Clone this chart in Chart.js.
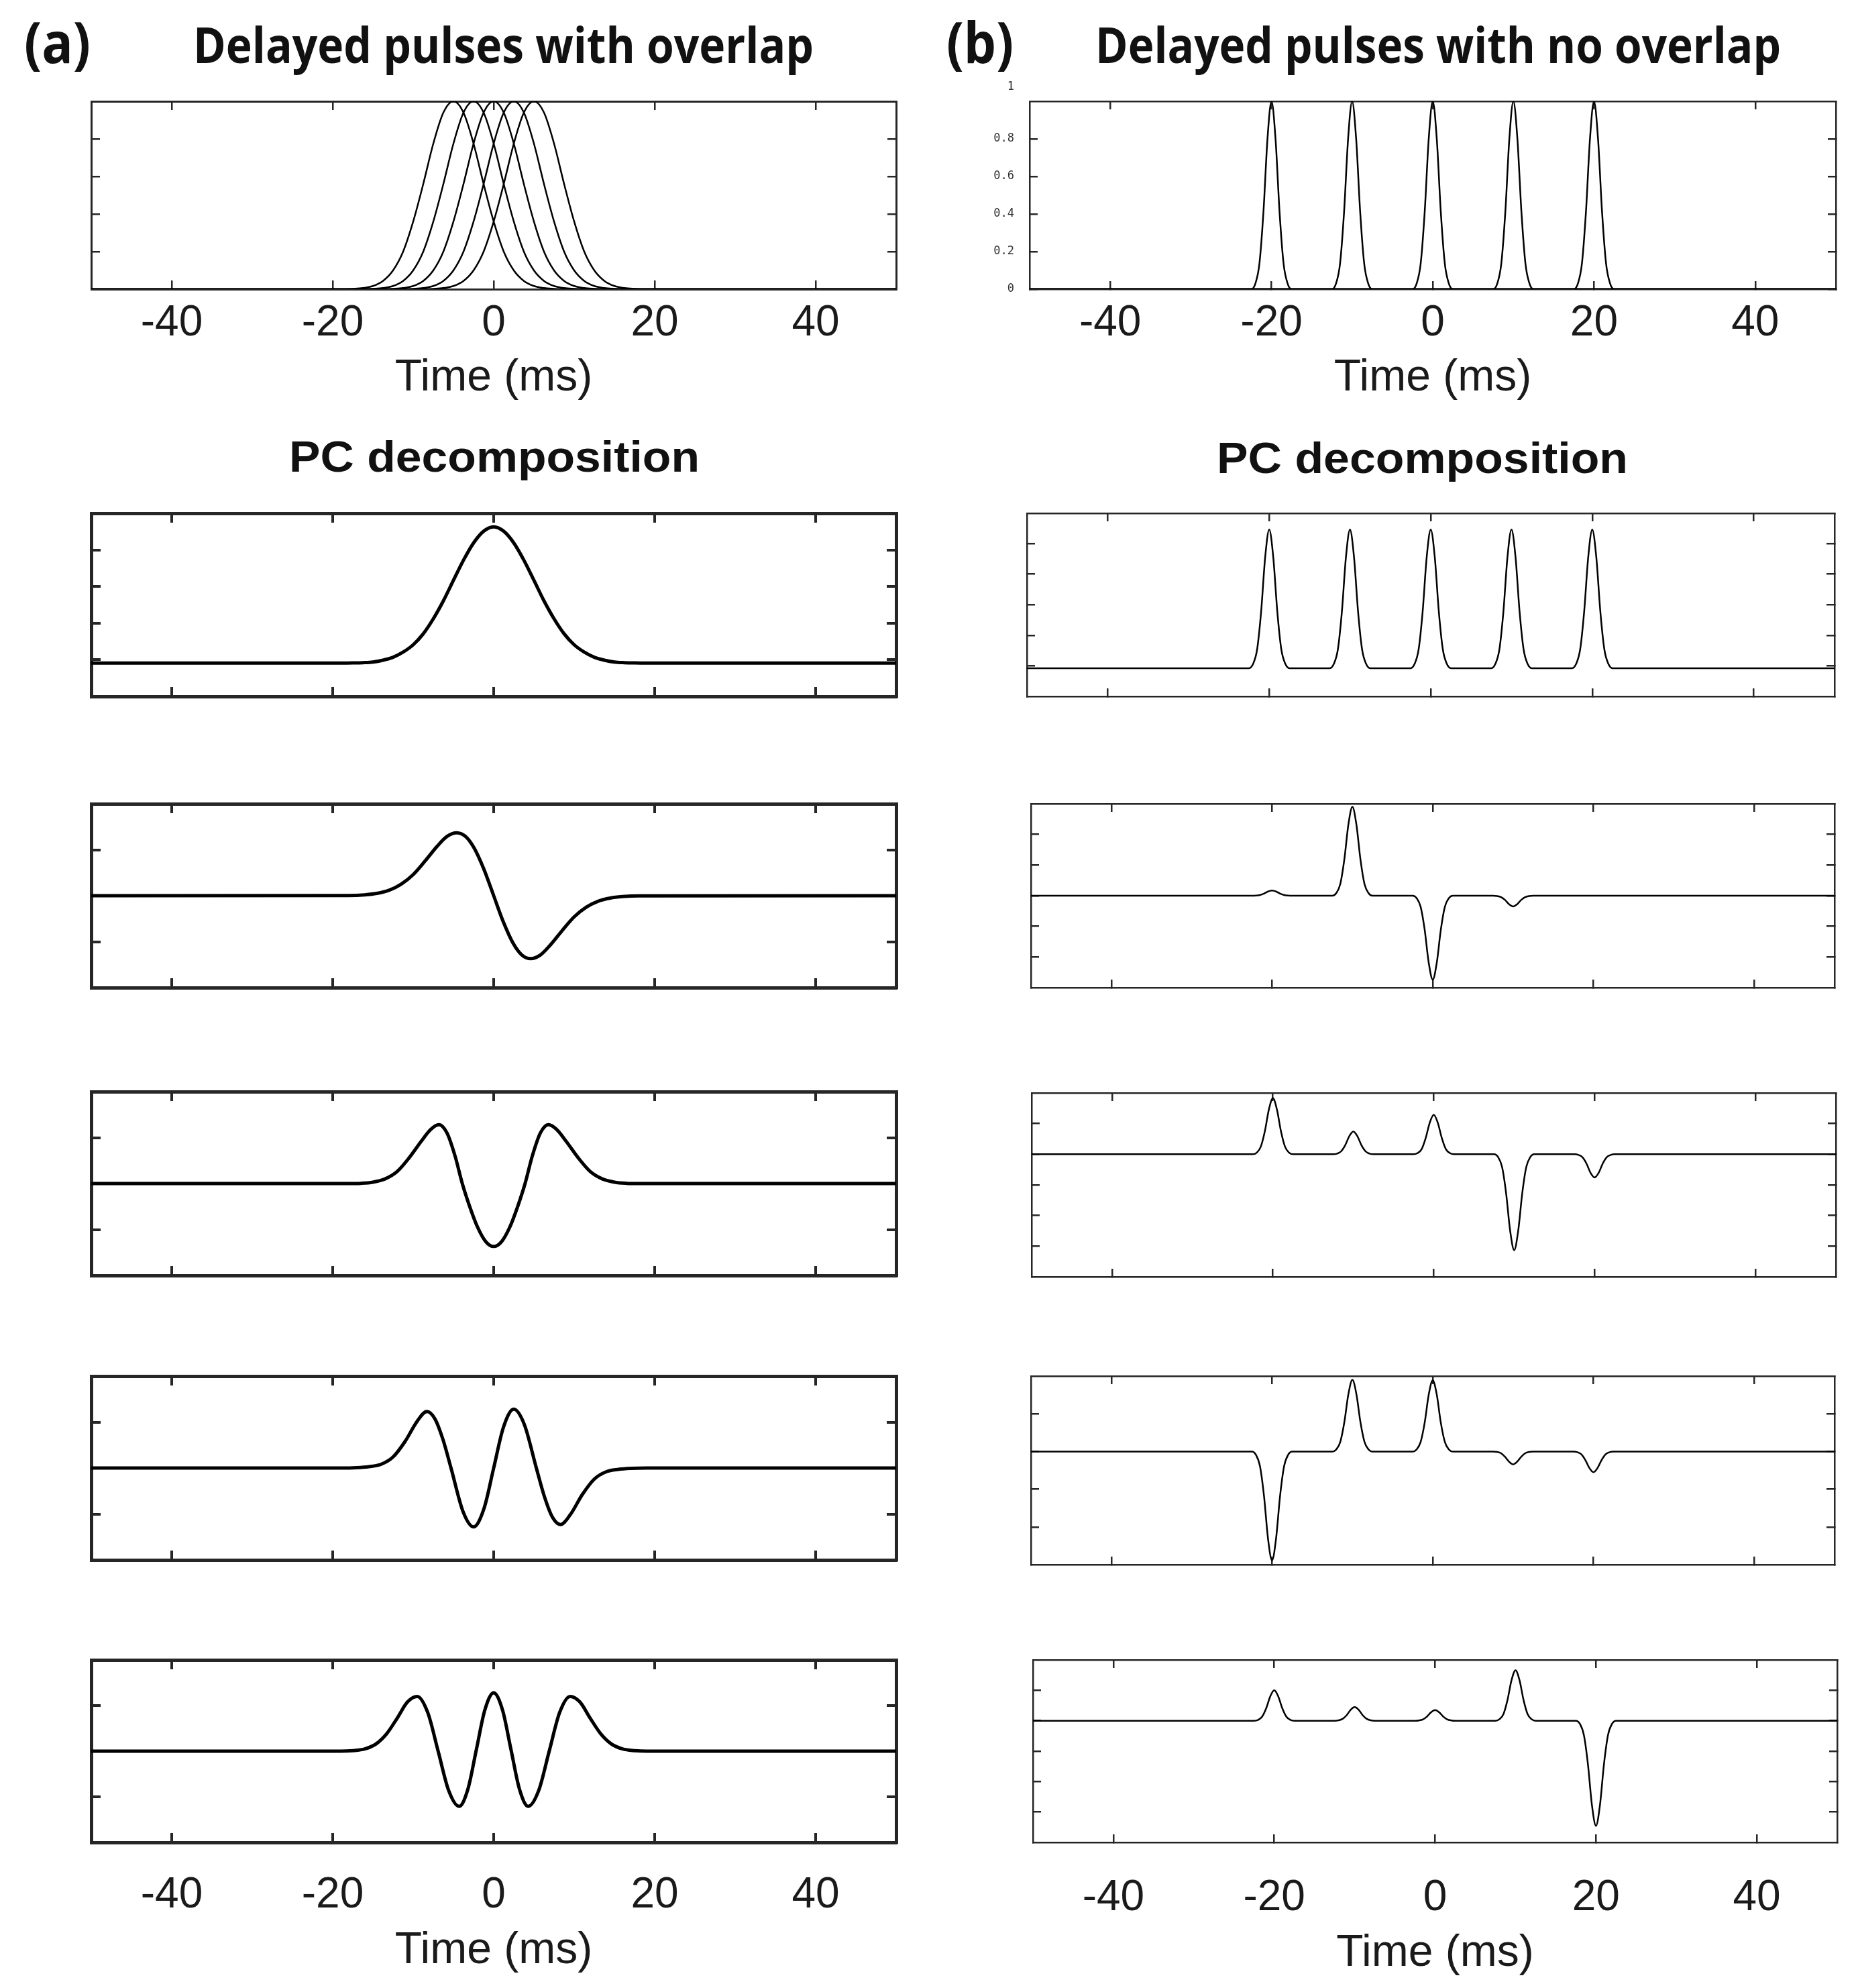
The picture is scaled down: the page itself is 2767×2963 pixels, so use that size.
<!DOCTYPE html>
<html>
<head>
<meta charset="utf-8">
<script src="https://cdn.jsdelivr.net/npm/chart.js@4.4.1/dist/chart.umd.min.js"></script>
<style>
html,body{margin:0;padding:0;background:#fff}
body{width:2767px;height:2963px;position:relative;overflow:hidden}
canvas{position:absolute}
.lbl{position:absolute;white-space:nowrap;line-height:1;color:#111;transform-origin:0 0}
.head{font-family:'Open Sans',sans-serif;font-weight:700}
.pc{font-family:'Liberation Sans',Arial,sans-serif;font-weight:700;font-size:64px}
</style>
</head>
<body>
<div class="lbl head" id="lab-a" style="left:36px;top:20px;font-size:84px">(a)</div>
<div class="lbl head" id="tit-a" style="left:288px;top:29px;font-size:74px">Delayed pulses with overlap</div>
<div class="lbl head" id="lab-b" style="left:1411px;top:20px;font-size:84px">(b)</div>
<div class="lbl head" id="tit-b" style="left:1633px;top:29px;font-size:74px">Delayed pulses with no overlap</div>
<div class="lbl pc" id="pc-a" style="left:431px;top:649px">PC decomposition</div>
<div class="lbl pc" id="pc-b" style="left:1814px;top:651px">PC decomposition</div>
<script>
'use strict';
// ══ Delayed pulses + PC decomposition, two columns ══
const FRAME='#262626', INK='#000', TXT='#1a1a1a', SANS="'Liberation Sans', Arial, sans-serif";
const xTicks=[-40,-20,0,20,40];

// ── (a) delayed pulses with overlap, all on one time grid
const tA=[-50,-20,-18.75,-17.5,-16.25,-15,-13.75,-12.5,-11.25,-10,-8.75,-7.5,-6.25,-5,-3.75,-2.5,-1.25,0,1.25,2.5,3.75,5,6.25,7.5,8.75,10,11.25,12.5,13.75,15,16.25,17.5,18.75,20,50];
const pulseA1=[0, 0,0, 0.002,0.006,0.017,0.044,0.10,0.20,0.36,0.56,0.775,0.94, 1, 0.94,0.775,0.56,0.36,0.20,0.10,0.044,0.017,0.006,0.002, 0,0,0,0,0,0,0,0,0,0, 0];
const pulseA2=[0, 0,0,0,0, 0.002,0.006,0.017,0.044,0.10,0.20,0.36,0.56,0.775,0.94, 1, 0.94,0.775,0.56,0.36,0.20,0.10,0.044,0.017,0.006,0.002, 0,0,0,0,0,0,0,0, 0];
const pulseA3=[0, 0,0,0,0,0,0, 0.002,0.006,0.017,0.044,0.10,0.20,0.36,0.56,0.775,0.94, 1, 0.94,0.775,0.56,0.36,0.20,0.10,0.044,0.017,0.006,0.002, 0,0,0,0,0,0, 0];
const pulseA4=[0, 0,0,0,0,0,0,0,0, 0.002,0.006,0.017,0.044,0.10,0.20,0.36,0.56,0.775,0.94, 1, 0.94,0.775,0.56,0.36,0.20,0.10,0.044,0.017,0.006,0.002, 0,0,0,0, 0];
const pulseA5=[0, 0,0,0,0,0,0,0,0,0,0, 0.002,0.006,0.017,0.044,0.10,0.20,0.36,0.56,0.775,0.94, 1, 0.94,0.775,0.56,0.36,0.20,0.10,0.044,0.017,0.006,0.002, 0,0, 0];

// ── (a) principal components
const pc1A=[0, 0,0,0.004,0.012,0.03,0.08,0.16,0.30,0.50,0.80,1.21,1.70,2.26,2.81,3.28,3.60,3.72,3.60,3.28,2.81,2.26,1.70,1.21,0.80,0.50,0.30,0.16,0.08,0.03,0.012,0.004,0,0, 0];
const tPc2A=[-50,-18,-16,-14.5,-13,-11.5,-10,-8.5,-7,-5.8,-4.6,-3.5,-2.4,-1.2,0,1.2,2.4,3.5,4.6,5.8,7,8.5,10,11.5,13,14.5,16,18,50];
const pc2A=[0,0.004,0.019,0.05,0.118,0.25,0.46,0.76,1.08,1.29,1.37,1.29,1.03,0.57,0,-0.57,-1.03,-1.29,-1.37,-1.29,-1.08,-0.76,-0.46,-0.25,-0.118,-0.05,-0.019,-0.004,0];
const tPc3A=[-50,-18,-16.5,-15,-13.5,-12,-10.5,-9,-7.8,-6.8,-5.8,-4.8,-3.9,-3,-2,-1,0,1,2,3,3.9,4.8,5.8,6.8,7.8,9,10.5,12,13.5,15,16.5,18,50];
const pc3A=[0,0,0.005,0.03,0.10,0.26,0.56,0.92,1.18,1.28,1.10,0.60,0,-0.49,-0.95,-1.26,-1.37,-1.26,-0.95,-0.49,0,0.60,1.10,1.28,1.18,0.92,0.56,0.26,0.10,0.03,0.005,0,0];
const tPc4A=[-50,-19,-17,-15.5,-14,-12.5,-11,-9.5,-8.3,-7.3,-6.3,-5.3,-3.8,-2.5,-1.2,0,1.2,2.5,3.8,5.3,6.3,7.3,8.3,9.5,11,12.5,14,15.5,17,19,50];
const pc4A=[0,0,0.008,0.03,0.08,0.24,0.58,1.02,1.23,1.07,0.62,0,-0.95,-1.28,-0.88,0,0.88,1.28,0.95,0,-0.62,-1.07,-1.23,-1.02,-0.58,-0.24,-0.08,-0.03,-0.008,0,0];
const tPc5A=[-50,-19,-17.5,-16,-14.6,-13.3,-12,-10.7,-9.5,-8.2,-6.9,-5.6,-4.3,-3.2,-2.15,-1.1,0,1.1,2.15,3.2,4.3,5.6,6.9,8.2,9.5,10.7,12,13.3,14.6,16,17.5,19,50];
const pc5A=[0,0,0.012,0.05,0.16,0.38,0.72,1.08,1.20,0.85,0,-0.86,-1.21,-0.83,0.035,0.90,1.28,0.90,0.035,-0.83,-1.21,-0.86,0,0.85,1.20,1.08,0.72,0.38,0.16,0.05,0.012,0,0];

// ── (b) delayed pulses with no overlap
const tB1=[-50,-22.5,-22,-21.5,-21,-20.5,-20,-19.5,-19,-18.5,-18,-17.5,50];
const tB2=[-50,-12.5,-12,-11.5,-11,-10.5,-10,-9.5,-9,-8.5,-8,-7.5,50];
const tB3=[-50,-2.5,-2,-1.5,-1,-0.5,0,0.5,1,1.5,2,2.5,50];
const tB4=[-50,7.5,8,8.5,9,9.5,10,10.5,11,11.5,12,12.5,50];
const tB5=[-50,17.5,18,18.5,19,19.5,20,20.5,21,21.5,22,22.5,50];
const pulseB=[0,0,0.03,0.135,0.41,0.80,1,0.80,0.41,0.135,0.03,0,0];

// ── (b) principal components, shared time grid
const tB=[-50,
 -22.5,-22,-21.5,-21,-20.5,-20,-19.5,-19,-18.5,-18,-17.5,
 -12.5,-12,-11.5,-11,-10.5,-10,-9.5,-9,-8.5,-8,-7.5,
 -2.5,-2,-1.5,-1,-0.5,0,0.5,1,1.5,2,2.5,
 7.5,8,8.5,9,9.5,10,10.5,11,11.5,12,12.5,
 17.5,18,18.5,19,19.5,20,20.5,21,21.5,22,22.5,
 50];
const pc1B=[0,
 0,0.14,0.61,1.85,3.62,4.52,3.62,1.85,0.61,0.14,0,
 0,0.14,0.61,1.85,3.62,4.52,3.62,1.85,0.61,0.14,0,
 0,0.14,0.61,1.85,3.62,4.52,3.62,1.85,0.61,0.14,0,
 0,0.14,0.61,1.85,3.62,4.52,3.62,1.85,0.61,0.14,0,
 0,0.14,0.61,1.85,3.62,4.52,3.62,1.85,0.61,0.14,0,
 0];
const pc2B=[0,
 0,0.005,0.023,0.07,0.136,0.17,0.136,0.07,0.023,0.005,0,
 0,0.087,0.39,1.19,2.32,2.90,2.32,1.19,0.39,0.087,0,
 0,-0.082,-0.37,-1.12,-2.19,-2.74,-2.19,-1.12,-0.37,-0.082,0,
 0,-0.01,-0.047,-0.14,-0.28,-0.35,-0.28,-0.14,-0.047,-0.01,0,
 0,0,0,0,0,0,0,0,0,0,0,
 0];
const pc3B=[0,
 0,0.055,0.25,0.75,1.46,1.83,1.46,0.75,0.25,0.055,0,
 0,0.022,0.10,0.30,0.59,0.74,0.59,0.30,0.10,0.022,0,
 0,0.039,0.17,0.53,1.03,1.29,1.03,0.53,0.17,0.039,0,
 0,-0.094,-0.42,-1.28,-2.50,-3.13,-2.50,-1.28,-0.42,-0.094,0,
 0,-0.023,-0.10,-0.31,-0.61,-0.76,-0.61,-0.31,-0.10,-0.023,0,
 0];
const pc4B=[0,
 0,-0.087,-0.39,-1.18,-2.31,-2.89,-2.31,-1.18,-0.39,-0.087,0,
 0,0.057,0.26,0.78,1.52,1.90,1.52,0.78,0.26,0.057,0,
 0,0.057,0.26,0.77,1.51,1.89,1.51,0.77,0.26,0.057,0,
 0,-0.01,-0.046,-0.14,-0.27,-0.34,-0.27,-0.14,-0.046,-0.01,0,
 0,-0.017,-0.074,-0.23,-0.44,-0.55,-0.44,-0.23,-0.074,-0.017,0,
 0];
const pc5B=[0,
 0,0.03,0.135,0.41,0.80,1.0,0.80,0.41,0.135,0.03,0,
 0,0.014,0.061,0.18,0.36,0.45,0.36,0.18,0.061,0.014,0,
 0,0.011,0.047,0.14,0.28,0.35,0.28,0.14,0.047,0.011,0,
 0,0.05,0.22,0.68,1.33,1.66,1.33,0.68,0.22,0.05,0,
 0,-0.10,-0.47,-1.42,-2.77,-3.46,-2.77,-1.42,-0.47,-0.10,0,
 0];

// y tick values per panel (the small labelled ones only on (b) top)
const yTicksA0=[0.2,0.4,0.6,0.8];
const yTicksA1=[0.09,1.09,2.09,3.09];
const yTicksA2=[-1,1];
const yTicksB0=[0,0.2,0.4,0.6,0.8,1.075];
const yLabelsB0=['0','0.2','0.4','0.6','0.8','1'];
const yTicksB1=[0.07,1.07,2.07,3.07,4.07];
const yTicksB2=[-2,-1,0,1,2];
const yTicksB3=[-3,-2,-1,0,1];
const yTicksB4=[-2,-1,0,1];

// layout: frame rect [left,top,right,bottom] in page px
const LA={fw:5,tw:4,tl:14,lw:5};
const LB={fw:2.5,tw:2.5,tl:12,lw:2.5};
const panels=[
  {rect:[136,151,1336,431],y:[0,1],yTicks:yTicksA0,fw:3,tw:2.5,tl:13,lw:2.5,xlab:{tick:482,title:563},
   series:[[tA,pulseA1],[tA,pulseA2],[tA,pulseA3],[tA,pulseA4],[tA,pulseA5]]},
  {rect:[136,765,1336,1038],y:[-0.91,4.09],yTicks:yTicksA1,...LA,series:[[tA,pc1A]]},
  {rect:[136,1198,1336,1472],y:[-2,2],yTicks:yTicksA2,...LA,series:[[tPc2A,pc2A]]},
  {rect:[136,1627,1336,1901],y:[-2,2],yTicks:yTicksA2,...LA,series:[[tPc3A,pc3A]]},
  {rect:[136,2051,1336,2325],y:[-2,2],yTicks:yTicksA2,...LA,series:[[tPc4A,pc4A]]},
  {rect:[136,2474,1336,2746],y:[-2,2],yTicks:yTicksA2,...LA,xlab:{tick:2825,title:2907},series:[[tPc5A,pc5A]]},
  {rect:[1535,151,2737,431],y:[0,1],yTicks:yTicksB0,yLabels:yLabelsB0,...LB,ml:80,mt:70,xlab:{tick:482,title:563},
   series:[[tB1,pulseB],[tB2,pulseB],[tB3,pulseB],[tB4,pulseB],[tB5,pulseB]]},
  {rect:[1531,765,2735,1038],y:[-0.92,5.05],yTicks:yTicksB1,...LB,series:[[tB,pc1B]]},
  {rect:[1537,1198,2735,1472],y:[-3,3],yTicks:yTicksB2,...LB,series:[[tB,pc2B]]},
  {rect:[1538,1629,2737,1903],y:[-4,2],yTicks:yTicksB3,...LB,series:[[tB,pc3B]]},
  {rect:[1537,2051,2735,2332],y:[-3,2],yTicks:yTicksB4,...LB,series:[[tB,pc4B]]},
  {rect:[1540,2474,2739,2746],y:[-4,2],yTicks:yTicksB3,...LB,xlab:{tick:2829,title:2911},series:[[tB,pc5B]]}
];

function mk(p){
  const [l,t,r,b]=p.rect;
  const ML=p.ml||12, MR=12, MT=p.mt||12;
  const tickFont=64, titleFont=66;
  let axisH=12, tickPad=0;
  if(p.xlab){
    axisH=Math.round(p.xlab.title+titleFont*0.6-b);
    tickPad=(p.xlab.tick-b)-tickFont*0.6+p.tl;
  }
  const cv=document.createElement('canvas');
  cv.width=r-l+ML+MR; cv.height=b-t+MT+axisH;
  cv.style.left=(l-ML)+'px'; cv.style.top=(t-MT)+'px';
  document.body.appendChild(cv);
  // tick marks point inwards; ticks outside the y range keep their label but lose the mark
  const grid=(ax)=>({drawOnChartArea:false,drawTicks:true,tickLength:-p.tl,color:FRAME,lineWidth:p.tw,
    tickColor:c=>(ax==='y'&&c.tick&&c.tick.value>p.y[1]+1e-6)?'rgba(0,0,0,0)':FRAME});
  const border=()=>({display:true,color:FRAME,width:p.fw});
  const setX=s=>{s.ticks=xTicks.map(v=>({value:v}))};
  const setY=s=>{s.ticks=p.yTicks.map(v=>({value:v}))};
  const yTickOpts=p.yLabels?{display:true,autoSkip:false,padding:35,color:'#333',
      font:{family:"'DejaVu Sans Mono', monospace",size:17},callback:(v,i)=>p.yLabels[i]}:{display:false};
  new Chart(cv,{type:'line',
    data:{datasets:p.series.map(([tt,vv])=>({
      data:tt.map((x,i)=>({x,y:vv[i]})),borderColor:INK,borderWidth:p.lw,
      pointRadius:0,fill:false,cubicInterpolationMode:'monotone'}))},
    options:{responsive:false,animation:false,devicePixelRatio:1,
      layout:{padding:{left:0,right:0,top:MT,bottom:0}},
      plugins:{legend:{display:false},tooltip:{enabled:false}},
      scales:{
        x:{type:'linear',position:'bottom',min:-50,max:50,afterBuildTicks:setX,afterFit:s=>{s.height=axisH},
          grid:grid('x'),border:border(),
          ticks:{display:!!p.xlab,autoSkip:false,maxRotation:0,padding:tickPad,color:TXT,
            font:{family:SANS,size:tickFont},callback:v=>String(v)},
          title:{display:!!p.xlab,text:'Time (ms)',color:TXT,font:{family:SANS,size:titleFont},padding:0}},
        x2:{type:'linear',axis:'x',position:'top',min:-50,max:50,afterBuildTicks:setX,afterFit:s=>{s.height=0},
          grid:grid('x'),border:border(),ticks:{display:false}},
        y:{type:'linear',position:'left',min:p.y[0],max:p.y[1],afterBuildTicks:setY,afterFit:s=>{s.width=ML},
          grid:grid('y'),border:border(),ticks:yTickOpts},
        y2:{type:'linear',axis:'y',position:'right',min:p.y[0],max:p.y[1],afterBuildTicks:setY,afterFit:s=>{s.width=MR},
          grid:grid('y'),border:border(),ticks:{display:false}}
      }}});
}
panels.forEach(mk);

// squeeze the heading texts to the widths they take in the figure
function fit(id,w){const e=document.getElementById(id);const r=e.getBoundingClientRect().width;e.style.transform='scaleX('+(w/r)+')'}
fit('lab-a',99);fit('tit-a',925);fit('lab-b',100);fit('tit-b',1022);fit('pc-a',612);fit('pc-b',613);
</script>
</body>
</html>
